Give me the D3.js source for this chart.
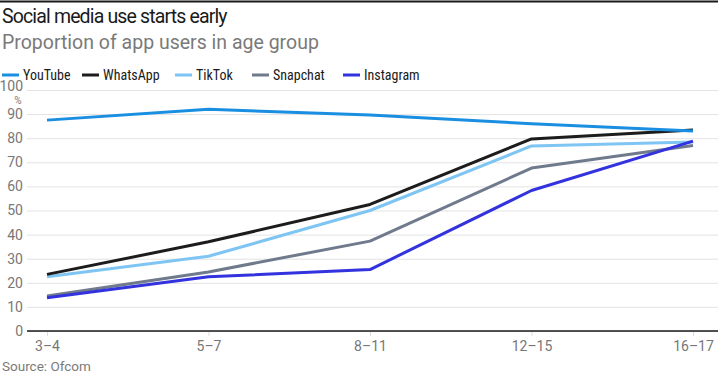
<!DOCTYPE html>
<html><head><meta charset="utf-8">
<script src="https://cdn.jsdelivr.net/npm/d3@7"></script>
<style>
body{margin:0;background:#fff;}
svg{display:block;}
.cond{font-family:"Liberation Sans Narrow","Roboto Condensed","Roboto",sans-serif;}
</style></head>
<body><svg id="c" width="718" height="377"></svg>
<script>
const categories = ["3–4","5–7","8–11","12–15","16–17"];
const youtube   = [87.5, 92, 89.6, 86, 83];
const whatsapp  = [23.5, 37, 52.5, 79.7, 83.4];
const tiktok    = [22.5, 31, 50, 76.8, 78.4];
const snapchat  = [14.5, 24.5, 37.3, 67.6, 77];
const instagram = [13.8, 22.5, 25.5, 58.3, 78.8];
const yTicks = [0,10,20,30,40,50,60,70,80,90,100];
const seriesNames = ["YouTube","WhatsApp","TikTok","Snapchat","Instagram"];
const colors = ["#1a8ee1","#1c1c1c","#7ec5f3","#6f7a8d","#3232de"];

const series = [youtube, whatsapp, tiktok, snapchat, instagram];
const svg = d3.select("#c");

svg.append("line").attr("x1",0).attr("x2",718).attr("y1",1.5).attr("y2",1.5)
  .attr("stroke","#1a1a1a").attr("stroke-width",2);
svg.append("text").attr("x",2).attr("y",23).text("Social media use starts early")
  .attr("font-family","Roboto, sans-serif").attr("font-size",19.5).attr("fill","#1a1a1a")
  .attr("letter-spacing","-0.85px");
svg.append("text").attr("x",2).attr("y",49).text("Proportion of app users in age group")
  .attr("font-family","Roboto, sans-serif").attr("font-size",19.5).attr("fill","#7a7a7a");

// legend
const legendX = [2, 82, 175, 252, 343];
const lg = svg.append("g").attr("class","cond");
seriesNames.forEach((n,i)=>{
  lg.append("line").attr("x1",legendX[i]).attr("x2",legendX[i]+17).attr("y1",75).attr("y2",75)
    .attr("stroke",colors[i]).attr("stroke-width",3);
  lg.append("text").attr("x",legendX[i]+21).attr("y",80).text(n)
    .attr("font-size",14).attr("fill","#1a1a1a");
});

const x = d3.scalePoint().domain(categories).range([47,693]);
const y = d3.scaleLinear().domain([0,100]).range([331,90]);

// grid
const ga = svg.append("g").attr("transform","translate(27,0)")
  .call(d3.axisLeft(y).tickValues(yTicks).tickSize(-691).tickPadding(4));
ga.select(".domain").remove();
ga.selectAll(".tick line").attr("stroke","#e3e3e3").attr("stroke-width",1);
ga.selectAll(".tick text").attr("font-size",14).attr("fill","#777")
  .attr("font-family","Liberation Sans Narrow, Roboto, sans-serif");
ga.selectAll(".tick text").filter(d=>d===100).attr("dy","0.05em");
svg.append("text").attr("x",18).attr("y",103.5).attr("text-anchor","middle")
  .attr("font-family","Liberation Sans Narrow, Roboto, sans-serif")
  .attr("font-size",10).attr("fill","#777").text("%");

// x axis
const xa = svg.append("g").attr("transform","translate(0,331)")
  .call(d3.axisBottom(x).tickSize(5).tickPadding(5));
xa.select(".domain").remove();
xa.selectAll(".tick line").attr("stroke","#ddd");
xa.selectAll(".tick text").attr("font-size",14).attr("fill","#777")
  .attr("font-family","Liberation Sans Narrow, Roboto, sans-serif");
svg.append("line").attr("x1",27).attr("x2",718).attr("y1",y(0)).attr("y2",y(0))
  .attr("stroke","#1a1a1a").attr("stroke-width",1.5);

// lines
const line = d3.line().x((d,i)=>x(categories[i])).y(d=>y(d));
[3,2,1,0,4].forEach(i=>{
  svg.append("path").datum(series[i]).attr("d",line).attr("fill","none")
    .attr("stroke",colors[i]).attr("stroke-width",3).attr("stroke-linejoin","round");
});

svg.append("text").attr("x",2).attr("y",371).text("Source: Ofcom")
  .attr("font-family","Roboto, sans-serif").attr("font-size",13.5).attr("fill","#7a7a7a");
</script></body></html>
